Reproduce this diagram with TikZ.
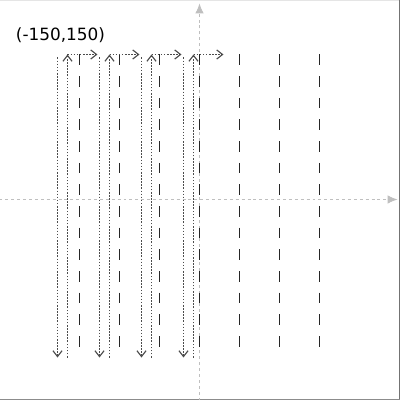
\documentclass[tikz,border=0pt]{standalone}
\usepackage{fontspec}
\setmainfont{DejaVu Sans}
\usetikzlibrary{arrows.meta}

\tikzset{
  axisline/.style = {draw=black!25,
                     dash pattern=on 2.1pt off 2.1pt,
                     line width=0.6pt,
                     -{Latex[length=7pt,width=6pt]}},
  scanline/.style = {draw=black!85,
                     dash pattern=on 7.6pt off 7.8pt,
                     line width=1.2pt},
  pathline/.style = {draw=black!70,
                     dash pattern=on 1.1pt off 1.1pt,
                     line width=0.8pt,
                     -{Straight Barb[length=4.2pt,width=6.5pt]}}
}

\begin{document}
\begin{tikzpicture}[x=0.025cm,y=0.025cm]

    \useasboundingbox (-199.5,-200.5) rectangle (200.5,199.5);
    % frame edges
    \coordinate (frametl) at (-199.5,199.3);
    \coordinate (frametr) at (200.1,199.3);
    \coordinate (framebr) at (200.1,-200.1);
    \coordinate (framebl) at (-199.5,-200.1);
    \draw[black!10, line width=0.6pt] (frametl) -- (frametr);
    \draw[black!55, line width=0.7pt] (frametr) -- (framebr);
    \draw[black!45, line width=0.7pt] (framebl) -- (framebr);

    % axes
    \coordinate (xstart) at (-200,0);
    \coordinate (xend) at (198,0);
    \coordinate (ystart) at (0,-201);
    \coordinate (yend) at (0,196);
    \draw[axisline] (xstart) -- (xend);
    \draw[axisline] (ystart) -- (yend);

    % scan lines
    \foreach \i in {0,...,6} {
        \pgfmathsetmacro\xs{-120+40*\i}
        \coordinate (scantop\i) at (\xs,145);
        \coordinate (scanbot\i) at (\xs,-158);
        \draw[scanline] (scantop\i) -- (scanbot\i);
    }

    % path
    \foreach \i in {0,...,3} {
        \pgfmathsetmacro\xd{-142+42*\i}
        \pgfmathsetmacro\xu{-132+42*\i}
        \pgfmathsetmacro\xr{-102+42*\i}
        \coordinate (downtop\i) at (\xd,142);
        \coordinate (downbot\i) at (\xd,-158);
        \coordinate (upbot\i) at (\xu,-158);
        \coordinate (uptop\i) at (\xu,145);
        \coordinate (rightend\i) at (\xr,145);
        \draw[pathline] (downtop\i) -- (downbot\i);
        \draw[pathline] (upbot\i) -- (uptop\i);
        \draw[pathline] (uptop\i) -- (rightend\i);
    }

    \node[font=\fontsize{12}{14}\selectfont] (start) at (-139,164) {(-150,150)};

\end{tikzpicture}
\end{document}
